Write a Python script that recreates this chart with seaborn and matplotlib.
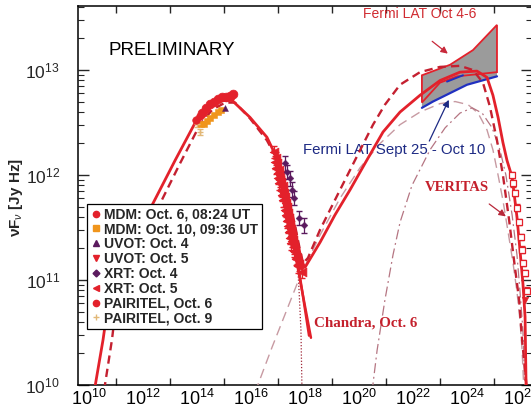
import numpy as np
import pandas as pd
import matplotlib
matplotlib.use("Agg")
import matplotlib.pyplot as plt
import seaborn as sns
from matplotlib.ticker import FixedLocator, NullFormatter, FuncFormatter, LogLocator
from matplotlib.lines import Line2D

# ---------------- data (log10 nu [Hz], log10 nuFnu [Jy Hz]) ----------------
model_solid_lognu = [10.20, 10.52, 10.78, 11.52, 12.33, 13.19, 14.04, 14.48, 14.93, 15.30, 15.96, 16.59,
                     17.00, 17.26, 17.52, 17.70, 17.89, 18.00, 18.56, 19.11, 19.67, 20.22, 20.89, 21.52,
                     22.26, 23.00, 23.74, 24.37, 24.74, 24.96, 25.15, 25.33, 25.48, 25.67, 25.85, 25.96,
                     26.07, 26.15, 26.19]
model_solid_logf = [9.95, 10.43, 10.90, 11.29, 11.71, 12.14, 12.55, 12.67, 12.71, 12.71, 12.55, 12.36,
                    12.14, 11.90, 11.62, 11.38, 11.17, 11.12, 11.36, 11.62, 11.86, 12.11, 12.41, 12.60,
                    12.76, 12.90, 12.98, 12.99, 12.93, 12.76, 12.55, 12.31, 12.14, 11.98, 11.60, 11.29,
                    10.97, 10.65, 9.95]

model_dashed_lognu = [10.56, 10.85, 11.07, 11.81, 12.56, 13.37, 14.11, 14.56, 15.04, 15.41, 15.96, 16.59,
                      17.07, 17.37, 17.63, 17.81, 17.93, 18.11, 18.56, 19.30, 19.85, 20.52, 20.96, 21.52,
                      22.26, 23.00, 23.74, 24.22, 24.59, 24.85, 25.11, 25.33, 25.56, 25.74, 25.93, 26.04,
                      26.22]
model_dashed_logf = [9.95, 10.43, 10.90, 11.29, 11.69, 12.11, 12.48, 12.62, 12.69, 12.69, 12.54, 12.33,
                     12.10, 11.81, 11.52, 11.29, 11.16, 11.21, 11.48, 11.86, 12.14, 12.48, 12.67, 12.86,
                     12.98, 13.03, 13.04, 13.00, 12.88, 12.65, 12.33, 12.00, 11.57, 11.19, 10.81, 10.43,
                     9.95]

ssc_thin_lognu = [16.15, 16.78, 17.81, 18.56, 19.30, 20.04, 20.78, 21.52, 22.26, 23.00, 23.56, 24.04,
                  24.41, 24.74, 24.96, 25.15, 25.33, 25.52, 25.70, 25.85, 25.96, 26.04, 26.11]
ssc_thin_logf = [9.93, 10.36, 11.03, 11.43, 11.78, 12.07, 12.30, 12.48, 12.60, 12.68, 12.70, 12.67,
                 12.59, 12.43, 12.24, 12.00, 11.76, 11.46, 11.17, 10.89, 10.62, 10.33, 9.93]

ec_dashdot_lognu = [20.48, 20.67, 20.96, 21.26, 21.52, 21.96, 22.63, 23.19, 23.74, 24.19, 24.56, 24.93,
                    25.22, 25.44, 25.67, 25.85, 25.96, 26.07, 26.15]
ec_dashdot_logf = [9.93, 10.33, 10.81, 11.24, 11.55, 11.90, 12.24, 12.45, 12.59, 12.64, 12.59, 12.45,
                   12.24, 12.00, 11.62, 11.24, 10.90, 10.52, 9.93]

sync_dotted_lognu = [17.63, 17.70, 17.78, 17.85, 17.89]
sync_dotted_logf = [11.48, 11.26, 10.90, 10.52, 9.93]

chandra_a_lognu = [17.26, 18.22]
chandra_a_logf = [11.76, 10.45]
chandra_b_lognu = [17.52, 18.15]
chandra_b_logf = [11.52, 10.47]

mdm6_lognu = [14.19, 14.33, 14.48, 14.63, 14.78, 14.93, 15.07, 15.22, 15.33]
mdm6_logf = [12.59, 12.64, 12.68, 12.70, 12.72, 12.74, 12.74, 12.75, 12.77]
mdm10_lognu = [14.15, 14.26, 14.37, 14.48, 14.63, 14.78, 14.89]
mdm10_logf = [12.49, 12.49, 12.51, 12.54, 12.57, 12.60, 12.62]
uvot4_lognu = [15.04]
uvot4_logf = [12.64]
uvot5_lognu = [15.33]
uvot5_logf = [12.74]
xrt4_lognu = [17.26, 17.33, 17.44, 17.52, 17.59, 17.78, 17.96]
xrt4_logf = [12.11, 12.03, 11.97, 11.86, 11.78, 11.59, 11.52]
xrt5_lognu = [16.85, 16.93, 16.96, 16.93, 17.04, 17.07, 17.00, 17.11, 17.19, 17.11, 17.22, 17.26, 17.19,
              17.30, 17.33, 17.26, 17.37, 17.41, 17.33, 17.44, 17.48, 17.41, 17.52, 17.56, 17.48, 17.59,
              17.63, 17.70, 17.78, 17.89, 17.15, 17.30, 17.44, 17.37, 17.04,
              16.89, 17.00, 17.07, 17.15, 17.22, 17.30, 17.37, 17.44, 17.52, 17.59, 17.67, 17.74]
xrt5_logf = [12.22, 12.16, 12.11, 12.07, 12.05, 12.00, 11.97, 11.93, 11.90, 11.86, 11.83, 11.79, 11.76,
             11.73, 11.70, 11.67, 11.64, 11.59, 11.56, 11.52, 11.49, 11.46, 11.42, 11.38, 11.35, 11.31,
             11.27, 11.21, 11.15, 11.08, 11.81, 11.62, 11.40, 11.51, 11.92,
             12.12, 12.02, 11.95, 11.85, 11.76, 11.66, 11.57, 11.47, 11.37, 11.28, 11.20, 11.13]
pairitel6_lognu = [13.96, 14.11, 14.30]
pairitel6_logf = [12.52, 12.56, 12.62]
pairitel9_lognu = [14.11, 14.00]
pairitel9_logf = [12.41, 12.49]

veritas_lognu = [25.67, 25.70, 25.78, 25.85, 25.93, 26.00, 26.04, 26.07, 26.15, 26.22]
veritas_logf = [12.00, 11.92, 11.83, 11.69, 11.55, 11.41, 11.29, 11.16, 11.07, 10.90]
veritas_ul_lognu = [26.15]
veritas_ul_logf = [10.81]

fermi_oct_top_lognu = [22.33, 23.37, 24.22, 25.11]
fermi_oct_top_logf = [12.95, 13.05, 13.19, 13.43]
fermi_oct_low_lognu = [25.11, 23.63, 23.00, 22.33]
fermi_oct_low_logf = [12.98, 12.94, 12.88, 12.69]
fermi_sep_low_lognu = [22.33, 22.74, 23.37, 24.00, 25.11]
fermi_sep_low_logf = [12.64, 12.70, 12.78, 12.86, 12.94]
fermi_sep_up_lognu = [23.26, 23.85]
fermi_sep_up_logf = [12.89, 12.95]

legend_labels = ["MDM: Oct. 6, 08:24 UT", "MDM: Oct. 10, 09:36 UT", "UVOT: Oct. 4", "UVOT: Oct. 5",
                 "XRT: Oct. 4", "XRT: Oct. 5", "PAIRITEL, Oct. 6", "PAIRITEL, Oct. 9"]
xtick_exponents = [10, 12, 14, 16, 18, 20, 22, 24, 26]

# ---------------- style ----------------
sns.set_theme(style="ticks")
plt.rcParams["font.family"] = ["Liberation Sans", "DejaVu Sans"]
plt.rcParams["mathtext.fontset"] = "custom"
plt.rcParams["mathtext.rm"] = "Liberation Sans"
plt.rcParams["mathtext.it"] = "Liberation Sans:italic"
plt.rcParams["mathtext.bf"] = "Liberation Sans:bold"

RED = "#e3212b"
DRED = "#c42030"
THIN = "#c79aa2"
DASHDOT = "#b57582"
NAVY = "#1d2a84"
PURPLE = "#5b1a5e"
ORANGE = "#f0951c"
TAN = "#e2b878"

def P(a):
    return 10.0 ** np.asarray(a, dtype=float)

fig = plt.figure(figsize=(5.31, 4.12), dpi=100)
ax = fig.add_axes([78 / 531, 1 - 385 / 412, 454 / 531, 379 / 412])
ax.set_xscale("log")
ax.set_yscale("log")
ax.set_xlim(10 ** 9.593, 10 ** 26.407)
ax.set_ylim(1e10, 10 ** 13.61)

# Fermi bowties
poly_x = P(fermi_oct_top_lognu + fermi_sep_low_lognu[::-1])
poly_y = P(fermi_oct_top_logf + fermi_sep_low_logf[::-1])
ax.fill(poly_x, poly_y, color="#9b9b9b", zorder=1, lw=0)
ax.fill(P(fermi_oct_top_lognu + fermi_oct_low_lognu), P(fermi_oct_top_logf + fermi_oct_low_logf),
        facecolor="none", edgecolor=RED, lw=1.3, zorder=2)
sns.lineplot(x=P(fermi_sep_low_lognu), y=P(fermi_sep_low_logf), sort=False, estimator=None, ax=ax,
             color="#2030c0", lw=1.6, zorder=2)
sns.lineplot(x=P(fermi_sep_up_lognu), y=P(fermi_sep_up_logf), sort=False, estimator=None, ax=ax,
             color="#2030c0", lw=1.4, zorder=2)

# model curves
sns.lineplot(x=P(ssc_thin_lognu), y=P(ssc_thin_logf), sort=False, estimator=None, ax=ax,
             color=THIN, lw=1.0, linestyle=(0, (7, 4)), zorder=3)
sns.lineplot(x=P(ec_dashdot_lognu), y=P(ec_dashdot_logf), sort=False, estimator=None, ax=ax,
             color=DASHDOT, lw=0.9, linestyle=(0, (8, 3, 1.5, 3)), zorder=3)
sns.lineplot(x=P(sync_dotted_lognu), y=P(sync_dotted_logf), sort=False, estimator=None, ax=ax,
             color="#a02838", lw=0.9, linestyle=(0, (1, 1.5)), zorder=3)
sns.lineplot(x=P(model_dashed_lognu), y=P(model_dashed_logf), sort=False, estimator=None, ax=ax,
             color=DRED, lw=1.7, linestyle=(0, (3.5, 2.2)), zorder=4)
sns.lineplot(x=P(model_solid_lognu), y=P(model_solid_logf), sort=False, estimator=None, ax=ax,
             color=RED, lw=2.0, zorder=5)
sns.lineplot(x=P(chandra_a_lognu), y=P(chandra_a_logf), sort=False, estimator=None, ax=ax,
             color=RED, lw=1.8, zorder=5)
sns.lineplot(x=P(chandra_b_lognu), y=P(chandra_b_logf), sort=False, estimator=None, ax=ax,
             color=RED, lw=1.8, zorder=5)

# data points with error bars
def errs(logf, dex):
    y = P(logf)
    return y, [y - y / 10 ** dex, y * 10 ** dex - y]

y, e = errs(xrt5_logf, 0.06)
ax.errorbar(P(xrt5_lognu), y, yerr=e, fmt="none", ecolor=RED, elinewidth=0.9, capsize=2.5, zorder=6)
sns.scatterplot(x=P(xrt5_lognu), y=y, marker="<", s=40, color=RED, edgecolor=RED, ax=ax, zorder=7)
y, e = errs(xrt4_logf, 0.07)
ax.errorbar(P(xrt4_lognu), y, yerr=e, fmt="none", ecolor=PURPLE, elinewidth=0.9, capsize=2.5, zorder=6)
sns.scatterplot(x=P(xrt4_lognu), y=y, marker="D", s=12, color=PURPLE, edgecolor=PURPLE, ax=ax, zorder=7)

sns.scatterplot(x=P(mdm10_lognu), y=P(mdm10_logf), marker="s", s=22, color=ORANGE, edgecolor=ORANGE,
                ax=ax, zorder=7)
y, e = errs(pairitel9_logf, 0.03)
ax.errorbar(P(pairitel9_lognu), y, yerr=e, fmt="none", ecolor=TAN, elinewidth=1.0, capsize=2.5, zorder=6)
sns.scatterplot(x=P(pairitel9_lognu), y=y, marker="+", s=25, color=TAN, linewidth=1.0, ax=ax, zorder=7)
sns.scatterplot(x=P(pairitel6_lognu), y=P(pairitel6_logf), marker="o", s=30, color=RED, edgecolor=RED,
                ax=ax, zorder=7)
sns.scatterplot(x=P(mdm6_lognu), y=P(mdm6_logf), marker="o", s=40, color=RED, edgecolor=RED, ax=ax, zorder=8)
sns.scatterplot(x=P(uvot4_lognu), y=P(uvot4_logf), marker="^", s=18, color=PURPLE, edgecolor=PURPLE,
                ax=ax, zorder=8)
sns.scatterplot(x=P(uvot5_lognu), y=P(uvot5_logf), marker="v", s=28, color=RED, edgecolor=RED, ax=ax, zorder=8)

y, e = errs(veritas_logf, 0.03)
ax.errorbar(P(veritas_lognu), y, yerr=e, fmt="none", ecolor=RED, elinewidth=0.8, capsize=2, zorder=6)
sns.scatterplot(x=P(veritas_lognu), y=y, marker="s", s=18, facecolor="white", edgecolor=RED,
                linewidth=0.9, ax=ax, zorder=7)
sns.scatterplot(x=P(veritas_ul_lognu), y=P(veritas_ul_logf), marker="v", s=22, color=RED, edgecolor=RED,
                ax=ax, zorder=7)

# annotations
ax.text(P(13.07), P(13.19), "PRELIMINARY", fontsize=13.5, ha="center", va="center", color="black")
ax.text(P(22.26), P(13.53), "Fermi LAT Oct 4-6", fontsize=10, ha="center", va="center", color="#d02a30")
ax.text(P(21.30), P(12.24), "Fermi LAT Sept 25 - Oct 10", fontsize=10.8, ha="center", va="center", color=NAVY)
ax.text(P(23.63), P(11.88), "VERITAS", fontsize=10.5, ha="center", va="center", color="#c4202c",
        family=["Liberation Serif"], fontweight="bold")
ax.text(P(20.26), P(10.59), "Chandra, Oct. 6", fontsize=10.8, ha="center", va="center", color="#c4202c",
        family=["Liberation Serif"], fontweight="bold")
ax.annotate("", xy=(P(23.37), P(13.14)), xytext=(P(22.63), P(13.29)),
            arrowprops=dict(arrowstyle="-|>", color="#c8283a", lw=0.9, mutation_scale=10), zorder=9)
ax.annotate("", xy=(P(23.37), P(12.74)), xytext=(P(22.56), P(12.30)),
            arrowprops=dict(arrowstyle="-|>", color=NAVY, lw=0.9, mutation_scale=10), zorder=9)
ax.annotate("", xy=(P(25.52), P(11.59)), xytext=(P(24.74), P(11.74)),
            arrowprops=dict(arrowstyle="-|>", color="#b8283a", lw=0.9, mutation_scale=10), zorder=9)

# axes / ticks
ax.xaxis.set_major_locator(FixedLocator(P(xtick_exponents)))
ax.xaxis.set_minor_locator(FixedLocator(P([e_ + 1 for e_ in xtick_exponents[:-1]])))
ax.xaxis.set_major_formatter(FuncFormatter(lambda v, p: "$10^{%d}$" % int(round(np.log10(v)))))
ax.xaxis.set_minor_formatter(NullFormatter())
ax.yaxis.set_major_locator(LogLocator(base=10))
ax.yaxis.set_minor_locator(LogLocator(base=10, subs=np.arange(2, 10)))
ax.yaxis.set_minor_formatter(NullFormatter())
ax.yaxis.set_major_formatter(FuncFormatter(lambda v, p: "$10^{%d}$" % int(round(np.log10(v)))))
ax.tick_params(axis="x", which="major", length=0, labelsize=13, pad=3, colors="black")
ax.tick_params(axis="x", which="minor", length=5, width=1, direction="in", top=True, bottom=True)
ax.tick_params(axis="y", which="major", length=8, width=1, direction="in", left=True, right=True,
               labelsize=12.5, pad=13)
ax.tick_params(axis="y", which="minor", length=4, width=0.8, direction="in", left=True, right=True)
for s in ax.spines.values():
    s.set_linewidth(1.1)
    s.set_color("black")
ax.set_xlabel("")
ax.set_ylabel("")
fig.text(16 / 531, 1 - 197 / 412, "νF$_{\\nu}$ [Jy Hz]", rotation=90, ha="center", va="center",
         fontsize=11, fontweight="bold")

# legend
handles = [
    Line2D([], [], ls="none", marker="o", ms=4.5, color=RED),
    Line2D([], [], ls="none", marker="s", ms=4, color=ORANGE),
    Line2D([], [], ls="none", marker="^", ms=4, color=PURPLE),
    Line2D([], [], ls="none", marker="v", ms=4, color=RED),
    Line2D([], [], ls="none", marker="D", ms=3.5, color=PURPLE),
    Line2D([], [], ls="none", marker="<", ms=4, color=RED),
    Line2D([], [], ls="none", marker="o", ms=4.5, color=RED),
    Line2D([], [], ls="none", marker="+", ms=5, color=TAN, mew=1),
]
leg = ax.legend(handles, legend_labels, loc="upper left", bbox_to_anchor=(0.0198, 0.4776),
                borderaxespad=0, borderpad=0.25, handletextpad=0.2, handlelength=0.8,
                labelspacing=0.06, frameon=True, fancybox=False, framealpha=1,
                prop={"family": "Liberation Sans", "weight": "bold", "size": 10})
leg.get_frame().set_edgecolor("black")
leg.get_frame().set_linewidth(0.9)
leg.set_zorder(10)

fig.savefig("out.png", dpi=100)
